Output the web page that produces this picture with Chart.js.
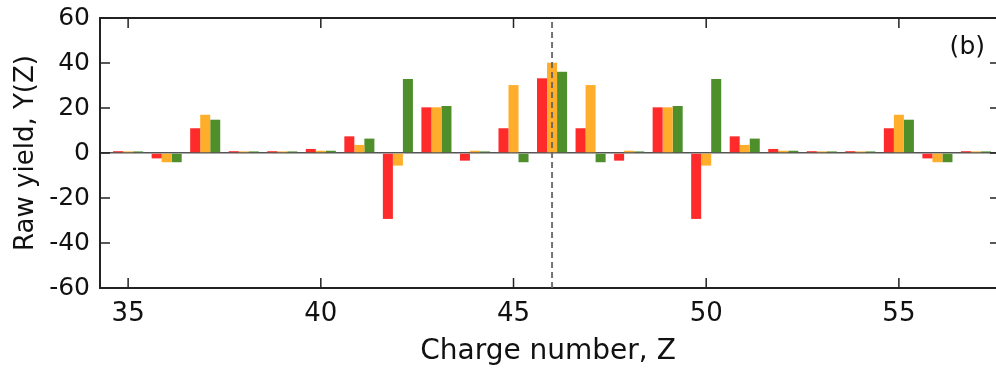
<!DOCTYPE html>
<html>
<head>
<meta charset="utf-8">
<script src="https://cdn.jsdelivr.net/npm/chart.js@4.4.1/dist/chart.umd.min.js"></script>
<style>
  body { margin: 0; background: #fff; }
  #wrap { width: 996px; height: 370px; position: relative; }
</style>
</head>
<body>
<div id="wrap"><canvas id="yieldChart"></canvas></div>
<script>

// charge numbers and raw yields
var zValues = [35, 36, 37, 38, 39, 40, 41, 42, 43, 44, 45, 46, 47, 48, 49, 50, 51, 52, 53, 54, 55, 56, 57];
var redYield = [0.8, -2.4, 11, 0.8, 0.8, 1.8, 7.4, -29.3, 20.3, -3.4, 11, 33.2, 11, -3.4, 20.3, -29.3, 7.4, 1.8, 0.8, 0.8, 11, -2.4, 0.8];
var orangeYield = [0.7, -4.1, 17, 0.7, 0.7, 1.0, 3.6, -5.6, 20.3, 1.0, 30.2, 40.1, 30.2, 1.0, 20.3, -5.6, 3.6, 1.0, 0.7, 0.7, 17, -4.1, 0.7];
var greenYield = [0.7, -4.1, 14.8, 0.7, 0.7, 1.0, 6.4, 32.9, 20.9, 0.7, -4.1, 36.1, -4.1, 0.7, 20.9, 32.9, 6.4, 1.0, 0.7, 0.7, 14.8, -4.1, 0.7];

var xTicks = [35, 40, 45, 50, 55];
var yTicks = [-60, -40, -20, 0, 20, 40, 60];
var markerZ = 46;
var markerLine = [{x: markerZ, y: -60}, {x: markerZ, y: 60}];
var panelLabel = "(b)";

function toPoints(vals) {
  var pts = [];
  for (var i = 0; i < zValues.length; i++) {
    pts.push({x: zValues[i], y: vals[i]});
  }
  return pts;
}

function barSet(vals, color) {
  return {
    type: 'bar',
    data: toPoints(vals),
    backgroundColor: color,
    borderWidth: 0,
    barPercentage: 1,
    categoryPercentage: 0.78,
    order: 1
  };
}

// frame, inward ticks and panel label
var framePlugin = {
  id: 'frame',
  afterDraw: function(chart) {
    var c = chart.ctx;
    var a = chart.chartArea;
    var xs = chart.scales.x;
    var ys = chart.scales.y;
    c.save();
    c.strokeStyle = '#222';
    c.lineWidth = 2;
    c.beginPath();
    c.moveTo(a.left, a.top);
    c.lineTo(a.right + 2, a.top);
    c.stroke();

    c.lineWidth = 1.5;
    c.beginPath();
    xTicks.forEach(function(v) {
      var px = xs.getPixelForValue(v);
      c.moveTo(px, a.top);
      c.lineTo(px, a.top + 10);
      c.moveTo(px, a.bottom);
      c.lineTo(px, a.bottom - 10);
    });
    yTicks.forEach(function(v) {
      var py = ys.getPixelForValue(v);
      c.moveTo(a.left, py);
      c.lineTo(a.left + 10, py);
      c.moveTo(a.right, py);
      c.lineTo(a.right - 6, py);
    });
    c.stroke();

    c.fillStyle = '#111';
    c.font = '25px "DejaVu Sans"';
    c.textAlign = 'right';
    c.textBaseline = 'alphabetic';
    c.fillText(panelLabel, a.right - 11, a.top + 36);
    c.restore();
  }
};

var ctx = document.getElementById("yieldChart").getContext("2d");

var yieldChart = new Chart(ctx, {
  type: 'bar',
  data: {
    datasets: [
      barSet(redYield, '#ff2b2b'),
      barSet(orangeYield, '#ffae2c'),
      barSet(greenYield, '#4e8f2c'),
      {
        type: 'line',
        data: markerLine,
        borderColor: 'rgba(100,100,100,0.9)',
        borderWidth: 2,
        borderDash: [6, 4],
        pointRadius: 0,
        fill: false,
        order: 0
      }
    ]
  },
  options: {
    responsive: true,
    maintainAspectRatio: false,
    animation: false,
    layout: { padding: { top: 18, right: 0, left: 0, bottom: 0 } },
    plugins: {
      legend: { display: false },
      tooltip: { enabled: false }
    },
    scales: {
      x: {
        type: 'linear',
        min: 34.27,
        max: 57.52,
        offset: false,
        grid: { display: false, drawTicks: false },
        border: { display: true, color: '#222', width: 2 },
        afterBuildTicks: function(scale) {
          scale.ticks = xTicks.map(function(v) { return {value: v}; });
        },
        afterFit: function(scale) {
          scale.height = 82;
          scale.paddingLeft = 0;
          scale.paddingRight = 0;
        },
        ticks: {
          padding: 11,
          color: '#111',
          font: { family: 'DejaVu Sans', size: 26 },
          maxRotation: 0
        },
        title: {
          display: true,
          text: 'Charge number, Z',
          color: '#111',
          font: { family: 'DejaVu Sans', size: 28 },
          padding: { top: 0, bottom: 1 }
        }
      },
      y: {
        min: -60,
        max: 60,
        afterBuildTicks: function(scale) {
          scale.ticks = yTicks.map(function(v) { return {value: v}; });
        },
        afterFit: function(scale) {
          scale.width = 100;
          scale.paddingTop = 0;
          scale.paddingBottom = 0;
        },
        grid: {
          drawTicks: false,
          lineWidth: 1.5,
          color: function(c) { return c.tick && c.tick.value === 0 ? '#555' : 'rgba(0,0,0,0)'; }
        },
        border: { display: true, color: '#222', width: 2 },
        ticks: {
          padding: 10,
          color: '#111',
          font: { family: 'DejaVu Sans', size: 25 }
        },
        title: {
          display: true,
          text: 'Raw yield, Y(Z)',
          color: '#111',
          font: { family: 'DejaVu Sans', size: 26 },
          padding: { top: 11, bottom: 0 }
        }
      }
    }
  },
  plugins: [framePlugin]
});
</script>
</body>
</html>
